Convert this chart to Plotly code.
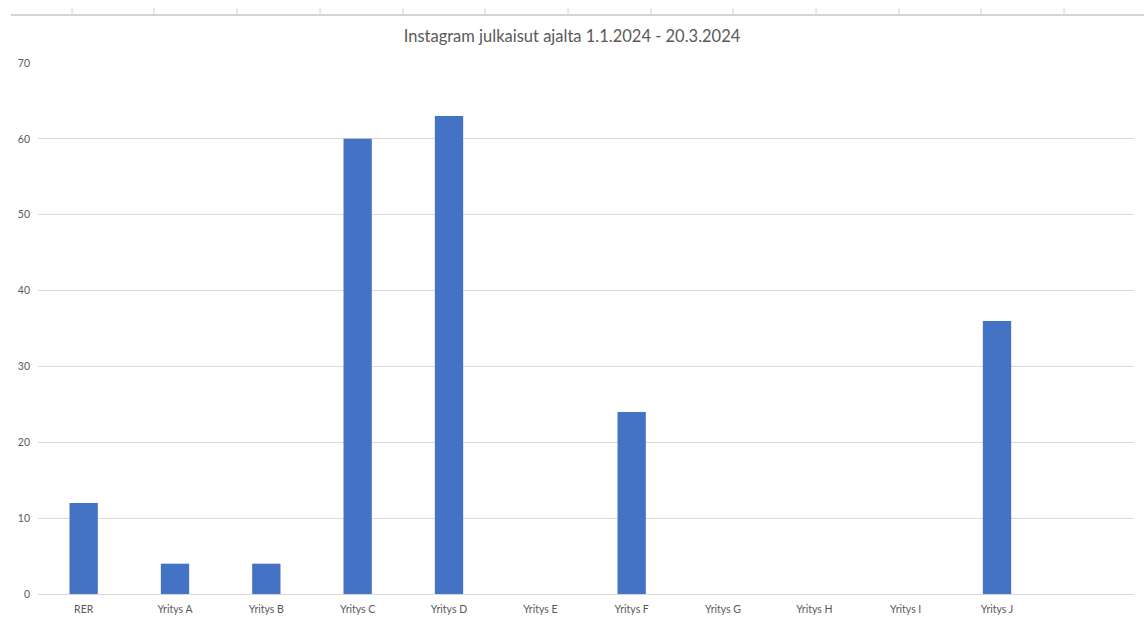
import plotly.graph_objects as go

categories = ["RER", "Yritys A", "Yritys B", "Yritys C", "Yritys D", "Yritys E",
              "Yritys F", "Yritys G", "Yritys H", "Yritys I", "Yritys J"]
values = [12, 4, 4, 60, 63, 0, 24, 0, 0, 0, 36]
y_ticks = [0, 10, 20, 30, 40, 50, 60, 70]

W, H = 1144, 619
L, R, T, B = 38, 10, 63, 25
pw, ph = W - L - R, H - T - B

def px(x):
    return (x - L) / pw

def py(y):
    return (H - B - y) / ph

fig = go.Figure()
fig.add_trace(go.Bar(x=categories, y=values, marker=dict(color="#4472C4", line=dict(width=0)),
                     width=0.31))

shapes = [dict(type="line", xref="paper", yref="paper", x0=px(11), x1=px(1144), y0=py(15), y1=py(15),
               line=dict(color="#d4d4d4", width=2))]
for tx in [72, 154, 237, 320, 403, 485, 568, 651, 733, 816, 899, 981, 1064]:
    shapes.append(dict(type="line", xref="paper", yref="paper", x0=px(tx), x1=px(tx), y0=py(8), y1=py(15),
                       line=dict(color="#d4d4d4", width=1)))

fig.update_layout(
    width=W, height=H,
    margin=dict(l=L, r=R, t=T, b=B, autoexpand=False),
    paper_bgcolor="white", plot_bgcolor="white",
    title=dict(text="Instagram julkaisut ajalta 1.1.2024 - 20.3.2024", x=0.5, xanchor="center",
               y=1 - 36 / H, yanchor="middle", font=dict(family="Lato", size=16.5, color="#595959")),
    xaxis=dict(range=[-0.5, 11.5], showgrid=False, showline=False, zeroline=False, ticks="",
               tickfont=dict(family="Lato", size=10.5, color="#595959"), tickangle=0,
               ticklabelstandoff=7, automargin=False),
    yaxis=dict(range=[0, 70], tickvals=y_ticks, showgrid=True, gridcolor="#d9d9d9", gridwidth=1,
               zeroline=True, zerolinecolor="#d9d9d9", zerolinewidth=1, showline=False, ticks="",
               tickfont=dict(family="Lato", size=10.5, color="#595959"), ticklabelstandoff=7,
               automargin=False),
    shapes=shapes,
    showlegend=False,
    bargap=0.69,
)

fig.write_html("out.html")
